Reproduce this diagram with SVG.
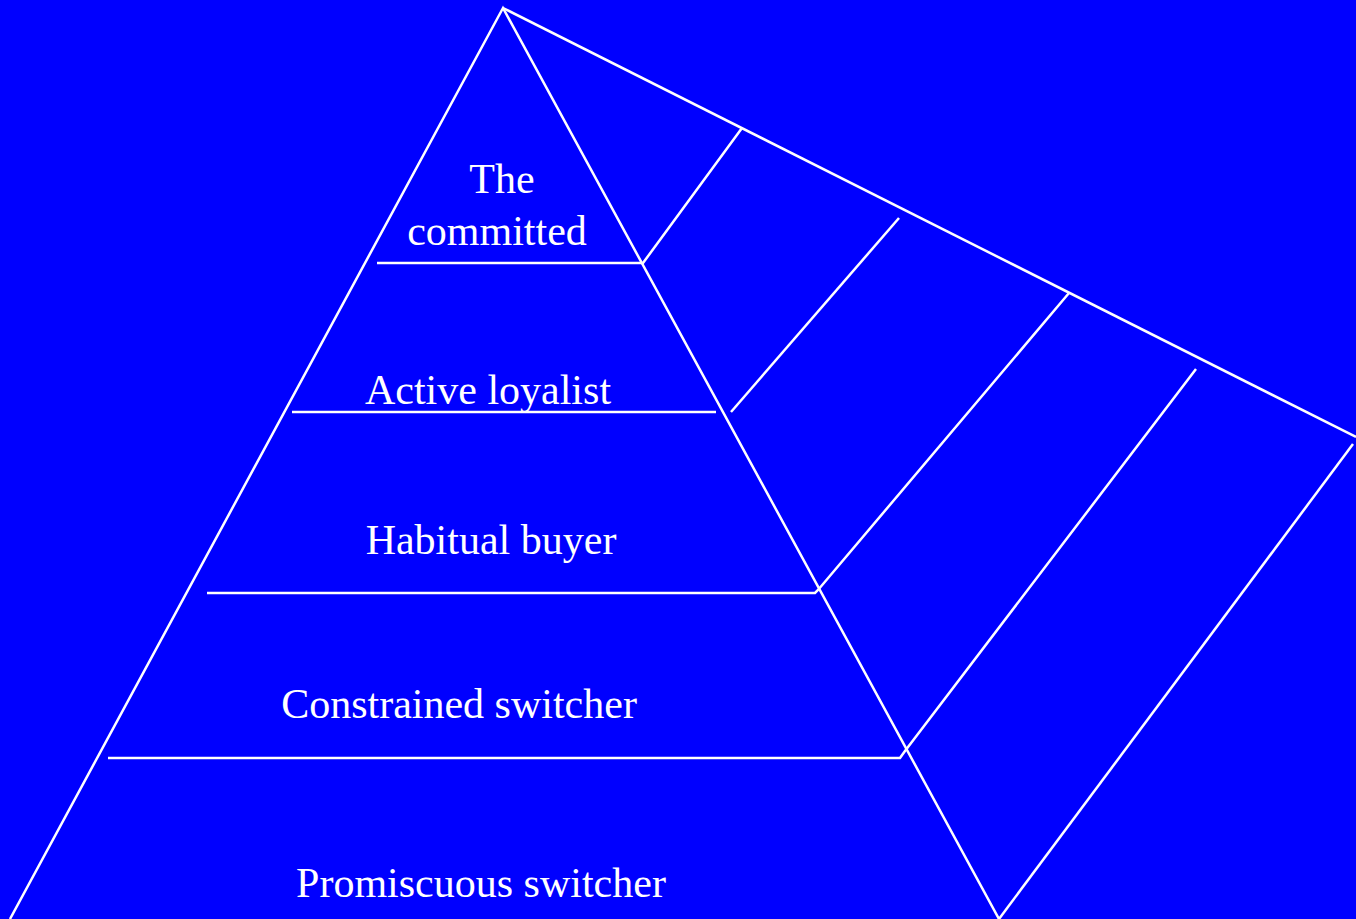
<svg xmlns="http://www.w3.org/2000/svg" width="1356" height="919" viewBox="0 0 1356 919">
<style>
.ln{stroke:#FFFFFF;stroke-width:2.5;fill:none;stroke-linejoin:miter}
.lbl{font-family:"Liberation Serif","Times New Roman",serif;font-size:42px;fill:#FFFFFF;text-anchor:middle}
</style>
<rect x="0" y="0" width="1356" height="919" fill="#0000FF"/>
<g id="connectors">
<polyline class="ln" points="10,919 503,8 999,919"/>
<line class="ln" x1="503" y1="8" x2="1356" y2="437"/>
<polyline class="ln" points="377,263 643,263 742,128"/>
<line class="ln" x1="292" y1="412" x2="716" y2="412"/>
<line class="ln" x1="731" y1="412" x2="899" y2="218"/>
<polyline class="ln" points="207,593 815,593 818,590 1069,293"/>
<polyline class="ln" points="108,758 900,758 905,751 1196,369"/>
<line class="ln" x1="999" y1="919" x2="1353" y2="444"/>
</g>
<g id="node-committed"><text class="lbl" x="502" y="193">The</text><text class="lbl" x="497" y="245">committed</text></g>
<g id="node-active"><text class="lbl" x="488" y="404">Active loyalist</text></g>
<g id="node-habitual"><text class="lbl" x="491" y="554">Habitual buyer</text></g>
<g id="node-constrained"><text class="lbl" x="459" y="718">Constrained switcher</text></g>
<g id="node-promiscuous"><text class="lbl" x="481" y="897">Promiscuous switcher</text></g>
</svg>
